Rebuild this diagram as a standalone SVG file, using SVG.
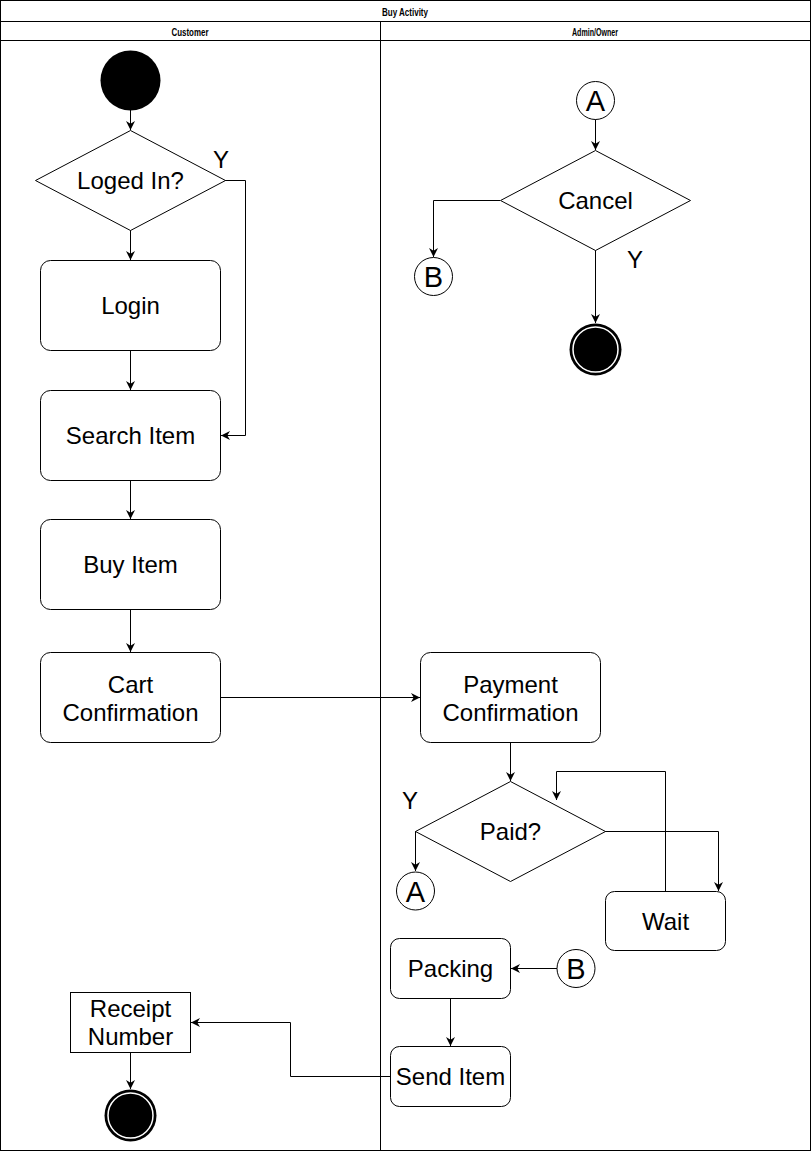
<svg xmlns="http://www.w3.org/2000/svg" width="811" height="1151" viewBox="0 0 811 1151">
<defs>
<style>
.ln{fill:none;stroke:#000;stroke-width:1}
.box{fill:#fff;stroke:#000;stroke-width:1}
.t{font-family:"Liberation Sans",Arial,sans-serif;font-size:24px;fill:#000;text-anchor:middle}
.c{font-family:"Liberation Sans",Arial,sans-serif;font-size:29px;fill:#000;text-anchor:middle}
.h{font-family:"Liberation Sans",Arial,sans-serif;font-size:11px;font-weight:bold;fill:#000;text-anchor:middle}
.arr{fill:none;stroke:#000;stroke-width:1;marker-end:url(#ah)}
</style>
<marker id="ah" viewBox="0 0 10 10" refX="10" refY="5" markerWidth="9" markerHeight="9" markerUnits="userSpaceOnUse" orient="auto">
<path d="M0,0 L10,5 L0,10 L3,5 Z" fill="#000"/>
</marker>
</defs>
<rect width="811" height="1151" fill="#fff"/>
<g id="pool">
<rect x="0.5" y="0.5" width="810" height="1150" class="ln"/>
<line x1="0.5" y1="21.5" x2="810.5" y2="21.5" class="ln"/>
<line x1="0.5" y1="40.5" x2="810.5" y2="40.5" class="ln"/>
<line x1="380.5" y1="21.5" x2="380.5" y2="1150.5" class="ln"/>
<text x="405" y="16" class="h" textLength="46" lengthAdjust="spacingAndGlyphs">Buy Activity</text>
<text x="190" y="35.5" class="h" textLength="37" lengthAdjust="spacingAndGlyphs">Customer</text>
<text x="595" y="35.5" class="h" textLength="46" lengthAdjust="spacingAndGlyphs">Admin/Owner</text>
</g>
<g id="connectors">
<line x1="130.5" y1="110" x2="130.5" y2="130" class="arr"/>
<polyline points="225,180.5 245.5,180.5 245.5,435.5 221,435.5" class="arr"/>
<line x1="130.5" y1="230" x2="130.5" y2="260" class="arr"/>
<line x1="130.5" y1="350" x2="130.5" y2="390" class="arr"/>
<line x1="130.5" y1="480" x2="130.5" y2="519" class="arr"/>
<line x1="130.5" y1="609" x2="130.5" y2="652" class="arr"/>
<line x1="220" y1="697.5" x2="420" y2="697.5" class="arr"/>
<line x1="510.5" y1="742" x2="510.5" y2="781" class="arr"/>
<polyline points="415,831.5 415.5,831.5 415.5,871" class="arr"/>
<polyline points="605,831.5 718.5,831.5 718.5,891" class="arr"/>
<polyline points="665.5,891 665.5,771.5 556.5,771.5 556.5,800" class="arr"/>
<line x1="557" y1="968.5" x2="511" y2="968.5" class="arr"/>
<line x1="450.5" y1="998" x2="450.5" y2="1046" class="arr"/>
<polyline points="390,1076.5 290.5,1076.5 290.5,1022.5 191,1022.5" class="arr"/>
<line x1="130.5" y1="1052" x2="130.5" y2="1089" class="arr"/>
<line x1="595.5" y1="119" x2="595.5" y2="150" class="arr"/>
<polyline points="500,200.5 433.5,200.5 433.5,257" class="arr"/>
<line x1="595.5" y1="250" x2="595.5" y2="323" class="arr"/>
<text x="221" y="168" class="t" font-size="22">Y</text>
<text x="410" y="809" class="t" font-size="22">Y</text>
<text x="635" y="268" class="t" font-size="22">Y</text>
</g>
<g id="start">
<circle cx="130.5" cy="80.5" r="30" fill="#000"/>
</g>
<g id="logedin">
<polygon points="130.5,130.5 225.5,180.5 130.5,230.5 35.5,180.5" class="box"/>
<text x="130.5" y="189" class="t">Loged In?</text>
</g>
<g id="login">
<rect x="40.5" y="260.5" width="180" height="90" rx="10" class="box"/>
<text x="130.5" y="314" class="t">Login</text>
</g>
<g id="search">
<rect x="40.5" y="390.5" width="180" height="90" rx="10" class="box"/>
<text x="130.5" y="444" class="t">Search Item</text>
</g>
<g id="buy">
<rect x="40.5" y="519.5" width="180" height="90" rx="10" class="box"/>
<text x="130.5" y="573" class="t">Buy Item</text>
</g>
<g id="cart">
<rect x="40.5" y="652.5" width="180" height="90" rx="10" class="box"/>
<text x="130.5" y="692.5" class="t">Cart</text>
<text x="130.5" y="720.5" class="t">Confirmation</text>
</g>
<g id="payment">
<rect x="420.5" y="652.5" width="180" height="90" rx="10" class="box"/>
<text x="510.5" y="692.5" class="t">Payment</text>
<text x="510.5" y="720.5" class="t">Confirmation</text>
</g>
<g id="paid">
<polygon points="510.5,781.5 605.5,831.5 510.5,881.5 415.5,831.5" class="box"/>
<text x="510.5" y="840" class="t">Paid?</text>
</g>
<g id="connA2">
<circle cx="415.5" cy="891" r="19" class="box"/>
<text x="415.5" y="902" class="c">A</text>
</g>
<g id="wait">
<rect x="605.5" y="891.5" width="120" height="59" rx="9" class="box"/>
<text x="665.5" y="930" class="t">Wait</text>
</g>
<g id="packing">
<rect x="390.5" y="938.5" width="120" height="60" rx="9" class="box"/>
<text x="450.5" y="977" class="t">Packing</text>
</g>
<g id="connB2">
<circle cx="576" cy="968.5" r="19" class="box"/>
<text x="576" y="979" class="c">B</text>
</g>
<g id="send">
<rect x="390.5" y="1046.5" width="120" height="60" rx="9" class="box"/>
<text x="450.5" y="1085" class="t">Send Item</text>
</g>
<g id="receipt">
<rect x="70.5" y="992.5" width="120" height="60" class="box"/>
<text x="130.5" y="1016.5" class="t">Receipt</text>
<text x="130.5" y="1044.5" class="t">Number</text>
</g>
<g id="end1">
<circle cx="130.5" cy="1115.5" r="26" fill="#000"/>
<circle cx="130.5" cy="1115.5" r="22.5" fill="none" stroke="#fff" stroke-width="1.5"/>
</g>
<g id="connA1">
<circle cx="595.5" cy="100.5" r="19" class="box"/>
<text x="595.5" y="111" class="c">A</text>
</g>
<g id="cancel">
<polygon points="595.5,150.5 690.5,200.5 595.5,250.5 500.5,200.5" class="box"/>
<text x="595.5" y="209" class="t">Cancel</text>
</g>
<g id="connB1">
<circle cx="433.5" cy="276.5" r="19" class="box"/>
<text x="433.5" y="287" class="c">B</text>
</g>
<g id="end2">
<circle cx="595.5" cy="349.5" r="26" fill="#000"/>
<circle cx="595.5" cy="349.5" r="22.5" fill="none" stroke="#fff" stroke-width="1.5"/>
</g>
</svg>
